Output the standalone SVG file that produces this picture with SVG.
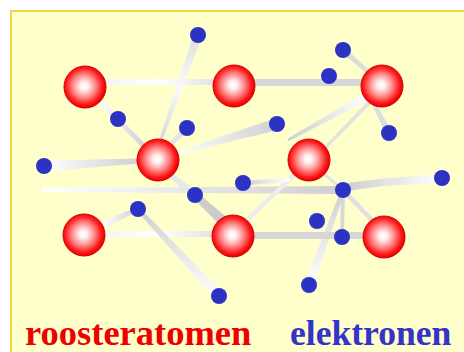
<svg xmlns="http://www.w3.org/2000/svg" width="464" height="352" viewBox="0 0 464 352">
  <defs>
    <!-- lattice ion: white core fading to red -->
    <radialGradient id="ion" cx="48%" cy="48%" r="52%">
      <stop offset="0" stop-color="#ffffff"/>
      <stop offset="0.18" stop-color="#fff0f0"/>
      <stop offset="0.52" stop-color="#ff8a8a"/>
      <stop offset="0.83" stop-color="#ff1a1a"/>
      <stop offset="1" stop-color="#e00000"/>
    </radialGradient>
    <!-- trail fills -->
    <linearGradient id="gH" x1="0" y1="0" x2="1" y2="0">
      <stop offset="0" stop-color="#cfcfcf"/>
      <stop offset="1" stop-color="#ffffff"/>
    </linearGradient>
    <linearGradient id="gHr" x1="0" y1="0" x2="1" y2="0">
      <stop offset="0" stop-color="#ffffff"/>
      <stop offset="1" stop-color="#cfcfcf"/>
    </linearGradient>
    <linearGradient id="gV" x1="0" y1="0" x2="0" y2="1">
      <stop offset="0" stop-color="#cfcfcf"/>
      <stop offset="1" stop-color="#ffffff"/>
    </linearGradient>
    <linearGradient id="gMid" x1="0" y1="0" x2="0" y2="1">
      <stop offset="0" stop-color="#dedede"/>
      <stop offset="0.5" stop-color="#fafafa"/>
      <stop offset="1" stop-color="#d4d4d4"/>
    </linearGradient>
    <linearGradient id="gLight" x1="0" y1="0" x2="1" y2="0">
      <stop offset="0" stop-color="#f4f4f4"/>
      <stop offset="0.5" stop-color="#ffffff"/>
      <stop offset="1" stop-color="#e2e2e2"/>
    </linearGradient>
  </defs>
  <style>
    .ion { fill: url(#ion); stroke: #d80000; stroke-width: 1; }
    .el { fill: #2c32c4; }
    .label { font-family: "Liberation Serif", "Times New Roman", serif; font-weight: bold; }
  </style>

  <!-- panel -->
  <rect x="0" y="0" width="464" height="352" fill="#ffffff"/>
  <rect x="11" y="11" width="470" height="360" fill="#ffffcc" stroke="#eed84a" stroke-width="2"/>

  <!-- electron trails -->
  <g id="connectors">
    <rect x="104" y="79" width="112" height="6" fill="url(#gLight)"/>
    <rect x="254" y="79" width="110" height="7" fill="#d8d8d8"/>
    <polygon points="202.2,36.5 161.4,142.5 158.6,141.5 193.8,33.5" fill="url(#gMid)"/>
    <polygon points="99.8,98.2 146.8,145.2 143.2,148.8 96.2,101.8" fill="url(#gHr)"/>
    <polygon points="189.5,130.5 173.4,144.4 170.6,141.6 184.5,125.5" fill="#e4e4e4"/>
    <polygon points="44,160.5 140,158.5 140,163.5 44,171.5" fill="url(#gHr)"/>
    <polygon points="278.7,129.8 178.4,154.4 177.6,151.6 275.3,118.2" fill="url(#gHr)"/>
    <polygon points="341,52.3 366.7,73.5 369.3,70.5 345,47.7" fill="#dcdcdc"/>
    <polygon points="372.2,104.9 386.3,134.4 391.7,131.6 375.8,103.1" fill="#dcdcdc"/>
    <polygon points="367.9,100.5 288.7,141.3 287.3,138.7 364.1,93.5" fill="url(#gH)"/>
    <polygon points="371.4,103.4 324.1,151 321.9,149 368.6,100.6" fill="#e2e2e2"/>
    <polygon points="42,188 340,186 340,194 42,192" fill="url(#gHr)"/>
    <polygon points="347,183 383,178.5 442,174 442,183 383,186 347,191" fill="url(#gH)"/>
    <polygon points="344.9,190.7 313.2,286.5 304.8,283.5 341.1,189.3" fill="url(#gV)"/>
    <polygon points="341.2,191.7 370.6,221.4 373.4,218.6 344.8,188.3" fill="#e0e0e0"/>
    <polygon points="341,190 340,237 344,237 345,190" fill="#d8d8d8"/>
    <polygon points="322,174.1 342,191.1 344,188.9 324,171.9" fill="#e2e2e2"/>
    <rect x="104" y="231" width="110" height="6" fill="url(#gLight)"/>
    <rect x="252" y="232" width="112" height="7" fill="#d6d6d6"/>
    <polygon points="105.4,227.2 138.8,210.8 137.2,207.2 102.6,220.8" fill="url(#gHr)"/>
    <polygon points="136.5,210.4 215.3,299.4 222.7,292.6 139.5,207.6" fill="url(#gV)"/>
    <polygon points="197.6,191.9 173.6,174.1 170.4,177.9 192.4,198.1" fill="#e8e8e8"/>
    <polygon points="192.6,197.6 218.6,223.7 225.4,216.3 197.4,192.4" fill="#cccccc"/>
    <polygon points="249.4,220.4 295.7,176.8 292.3,173.2 246.6,217.6" fill="#ececec"/>
    <polygon points="243,180.5 290,178 290,182 243,185.5" fill="url(#gH)"/>
  </g>

  <!-- lattice ions -->
  <g id="ion1"><circle class="ion" cx="85" cy="87" r="21"/></g>
  <g id="ion2"><circle class="ion" cx="234" cy="86" r="21"/></g>
  <g id="ion3"><circle class="ion" cx="382" cy="86" r="21"/></g>
  <g id="ion4"><circle class="ion" cx="158" cy="160" r="21"/></g>
  <g id="ion5"><circle class="ion" cx="309" cy="160" r="21"/></g>
  <g id="ion6"><circle class="ion" cx="84" cy="235" r="21"/></g>
  <g id="ion7"><circle class="ion" cx="233" cy="236" r="21"/></g>
  <g id="ion8"><circle class="ion" cx="384" cy="237" r="21"/></g>

  <!-- free electrons -->
  <g id="e1"><circle class="el" cx="198" cy="35" r="8"/></g>
  <g id="e2"><circle class="el" cx="343" cy="50" r="8"/></g>
  <g id="e3"><circle class="el" cx="329" cy="76" r="8"/></g>
  <g id="e4"><circle class="el" cx="118" cy="119" r="8"/></g>
  <g id="e5"><circle class="el" cx="187" cy="128" r="8"/></g>
  <g id="e6"><circle class="el" cx="277" cy="124" r="8"/></g>
  <g id="e7"><circle class="el" cx="389" cy="133" r="8"/></g>
  <g id="e8"><circle class="el" cx="44" cy="166" r="8"/></g>
  <g id="e9"><circle class="el" cx="243" cy="183" r="8"/></g>
  <g id="e10"><circle class="el" cx="195" cy="195" r="8"/></g>
  <g id="e11"><circle class="el" cx="343" cy="190" r="8"/></g>
  <g id="e12"><circle class="el" cx="442" cy="178" r="8"/></g>
  <g id="e13"><circle class="el" cx="138" cy="209" r="8"/></g>
  <g id="e14"><circle class="el" cx="317" cy="221" r="8"/></g>
  <g id="e15"><circle class="el" cx="342" cy="237" r="8"/></g>
  <g id="e16"><circle class="el" cx="309" cy="285" r="8"/></g>
  <g id="e17"><circle class="el" cx="219" cy="296" r="8"/></g>

  <!-- legend -->
  <g id="legend">
    <text class="label" x="25" y="345" font-size="36.5" fill="#ee0000">roosteratomen</text>
    <text class="label" x="290" y="345" font-size="35.6" fill="#3434c8">elektronen</text>
  </g>
</svg>
